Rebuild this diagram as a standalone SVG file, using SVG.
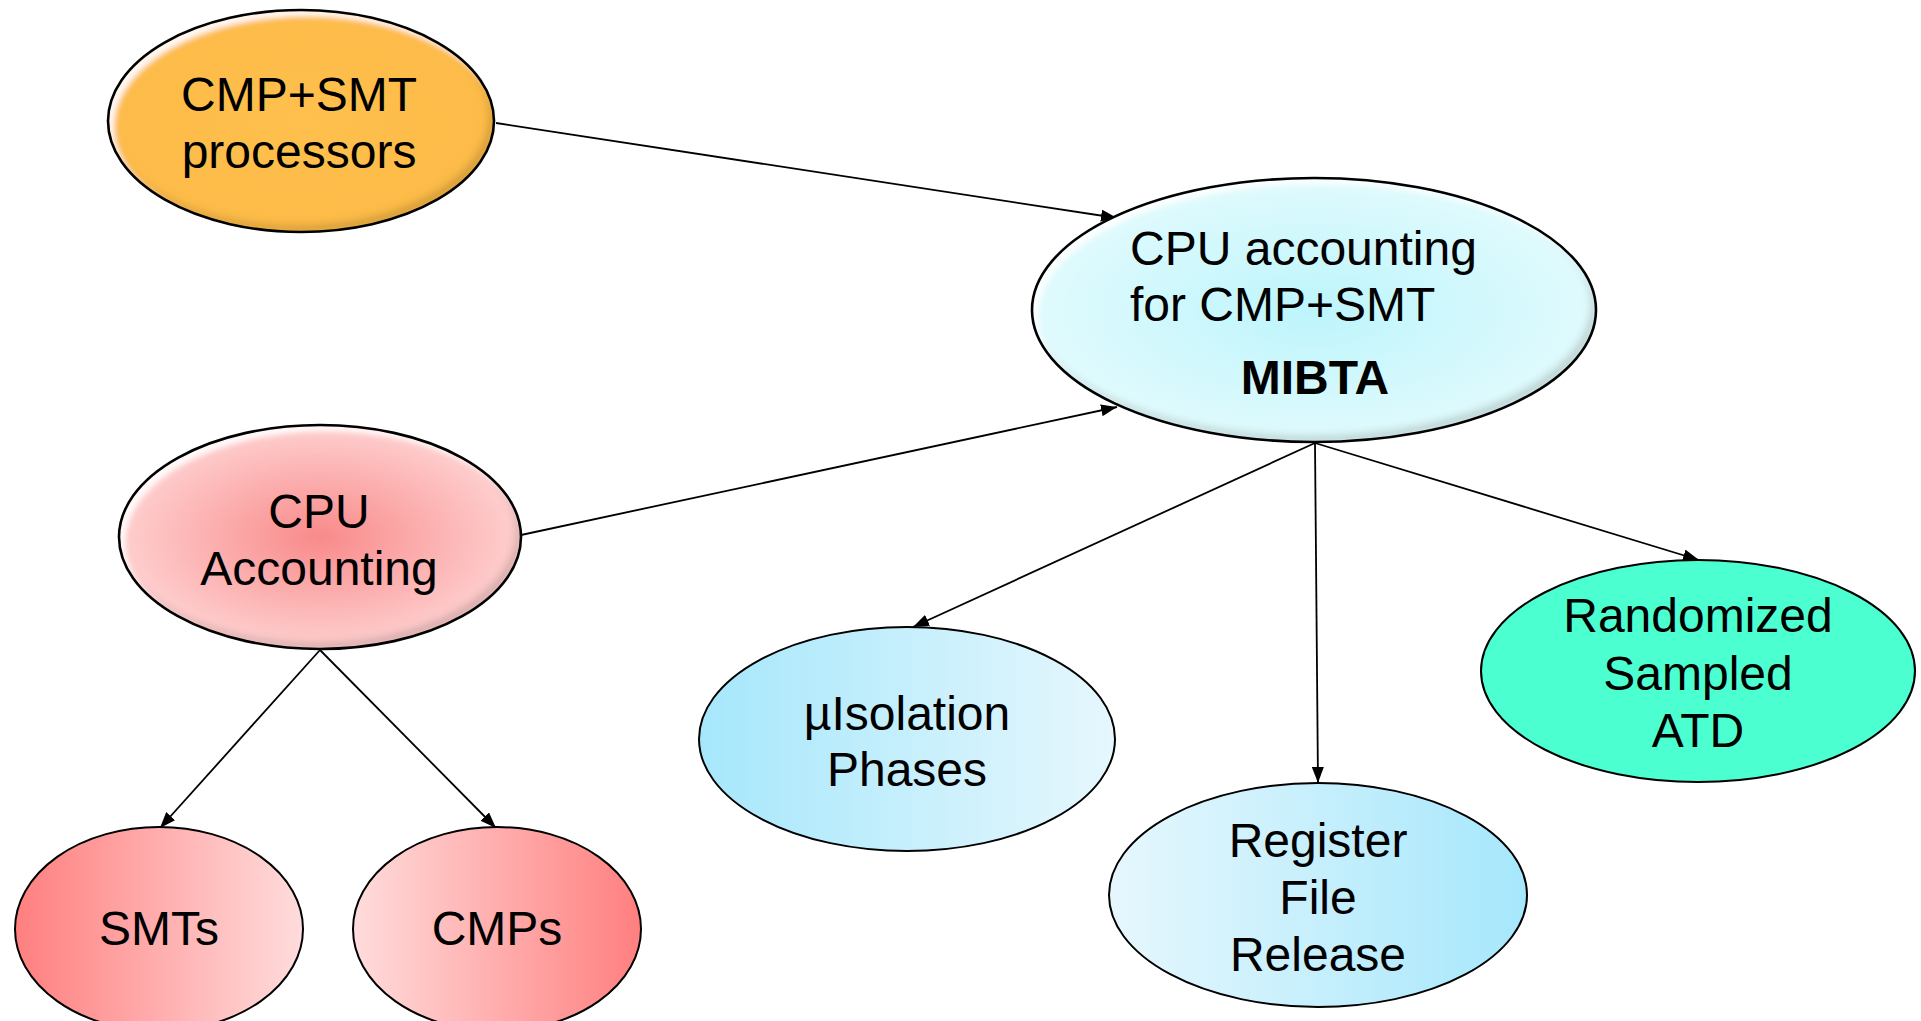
<svg xmlns="http://www.w3.org/2000/svg" width="1921" height="1021" viewBox="0 0 1921 1021">
  <defs>
    <style>
      .lbl { font-family: "Liberation Sans", Arial, sans-serif; font-size: 48px; fill: #000; text-anchor: middle; }
      .start { text-anchor: start; }
      .bold { font-weight: bold; }
      .node { stroke: #000; stroke-width: 2; }
      .rim { fill: none; stroke: #000; stroke-width: 2.6; }
      .edge { stroke: #000; stroke-width: 1.8; fill: none; marker-end: url(#arrow); }
    </style>
    <marker id="arrow" viewBox="0 0 16 12" refX="16" refY="6" markerWidth="16" markerHeight="12" markerUnits="userSpaceOnUse" orient="auto">
      <path d="M0,0 L16,6 L0,12 Z" fill="#000"/>
    </marker>
    <!-- inner bevel: light rim top-left, shaded rim bottom-right -->
    <filter id="bevel" x="-5%" y="-5%" width="110%" height="110%">
      <feOffset in="SourceAlpha" dx="6" dy="6" result="o1"/>
      <feGaussianBlur in="o1" stdDeviation="2.5" result="b1"/>
      <feComposite in="SourceAlpha" in2="b1" operator="out" result="hl"/>
      <feGaussianBlur in="hl" stdDeviation="1.8" result="hlb"/>
      <feFlood flood-color="#ffffff" flood-opacity="0.9"/>
      <feComposite in2="hlb" operator="in" result="hlc"/>
      <feOffset in="SourceAlpha" dx="-5" dy="-6" result="o2"/>
      <feGaussianBlur in="o2" stdDeviation="3" result="b2"/>
      <feComposite in="SourceAlpha" in2="b2" operator="out" result="sh"/>
      <feGaussianBlur in="sh" stdDeviation="2.5" result="shb"/>
      <feFlood flood-color="#3a2a10" flood-opacity="0.35"/>
      <feComposite in2="shb" operator="in" result="shc"/>
      <feMerge result="m"><feMergeNode in="SourceGraphic"/><feMergeNode in="shc"/><feMergeNode in="hlc"/></feMerge>
      <feComposite in="m" in2="SourceAlpha" operator="in"/>
    </filter>
    <radialGradient id="gOrange" cx="50%" cy="50%" r="50%">
      <stop offset="0" stop-color="#FFC04E"/>
      <stop offset="1" stop-color="#FDBB48"/>
    </radialGradient>
    <radialGradient id="gCyan" cx="50%" cy="50%" r="55%">
      <stop offset="0" stop-color="#BDF5FC"/>
      <stop offset="1" stop-color="#E4FBFD"/>
    </radialGradient>
    <radialGradient id="gPink" cx="50%" cy="50%" r="55%">
      <stop offset="0" stop-color="#F98A8A"/>
      <stop offset="1" stop-color="#FFD6D6"/>
    </radialGradient>
    <linearGradient id="gRedL" x1="0" y1="0" x2="1" y2="0">
      <stop offset="0" stop-color="#FF7F7F"/>
      <stop offset="1" stop-color="#FFDCDC"/>
    </linearGradient>
    <linearGradient id="gRedR" x1="0" y1="0" x2="1" y2="0">
      <stop offset="0" stop-color="#FFDCDC"/>
      <stop offset="1" stop-color="#FF7F7F"/>
    </linearGradient>
    <linearGradient id="gBlueL" x1="0" y1="0" x2="1" y2="0">
      <stop offset="0" stop-color="#A6E7FC"/>
      <stop offset="1" stop-color="#E6F7FD"/>
    </linearGradient>
    <linearGradient id="gBlueR" x1="0" y1="0" x2="1" y2="0">
      <stop offset="0" stop-color="#E6F7FD"/>
      <stop offset="1" stop-color="#A6E7FC"/>
    </linearGradient>
  </defs>

  <rect width="1921" height="1021" fill="#fff"/>

  <!-- connectors -->
  <g id="edges">
    <line class="edge" x1="496" y1="123" x2="1117" y2="218"/>
    <line class="edge" x1="521" y1="535" x2="1117" y2="407"/>
    <line class="edge" x1="320" y1="650" x2="160" y2="828"/>
    <line class="edge" x1="320" y1="650" x2="496" y2="828"/>
    <line class="edge" x1="1315" y1="443" x2="913" y2="627"/>
    <line class="edge" x1="1315" y1="443" x2="1318" y2="783"/>
    <line class="edge" x1="1315" y1="443" x2="1699" y2="560"/>
  </g>

  <g id="n-cmpsmt">
    <ellipse cx="301" cy="121" rx="193" ry="111" fill="url(#gOrange)" filter="url(#bevel)"/>
    <ellipse class="rim" cx="301" cy="121" rx="193" ry="111"/>
    <text class="lbl" x="299" y="111">CMP+SMT</text>
    <text class="lbl" x="299" y="168">processors</text>
  </g>

  <g id="n-mibta">
    <ellipse cx="1314" cy="310" rx="282" ry="132" fill="url(#gCyan)" filter="url(#bevel)"/>
    <ellipse class="rim" cx="1314" cy="310" rx="282" ry="132"/>
    <text class="lbl start" x="1130" y="265">CPU accounting</text>
    <text class="lbl start" x="1130" y="321">for CMP+SMT</text>
    <text class="lbl bold" x="1315" y="394">MIBTA</text>
  </g>

  <g id="n-cpuacct">
    <ellipse cx="320" cy="537" rx="201" ry="112" fill="url(#gPink)" filter="url(#bevel)"/>
    <ellipse class="rim" cx="320" cy="537" rx="201" ry="112"/>
    <text class="lbl" x="319" y="528">CPU</text>
    <text class="lbl" x="319" y="585">Accounting</text>
  </g>

  <g id="n-smts">
    <ellipse class="node" cx="159" cy="929" rx="144" ry="102" fill="url(#gRedL)"/>
    <text class="lbl" x="159" y="945">SMTs</text>
  </g>

  <g id="n-cmps">
    <ellipse class="node" cx="497" cy="929" rx="144" ry="102" fill="url(#gRedR)"/>
    <text class="lbl" x="497" y="945">CMPs</text>
  </g>

  <g id="n-isolation">
    <ellipse class="node" cx="907" cy="739" rx="208" ry="112" fill="url(#gBlueL)"/>
    <text class="lbl" x="907" y="730">µIsolation</text>
    <text class="lbl" x="907" y="786">Phases</text>
  </g>

  <g id="n-regfile">
    <ellipse class="node" cx="1318" cy="895" rx="209" ry="112" fill="url(#gBlueR)"/>
    <text class="lbl" x="1318" y="857">Register</text>
    <text class="lbl" x="1318" y="914">File</text>
    <text class="lbl" x="1318" y="971">Release</text>
  </g>

  <g id="n-atd">
    <ellipse class="node" cx="1698" cy="671" rx="217" ry="111" fill="#4CFFD0"/>
    <text class="lbl" x="1698" y="632">Randomized</text>
    <text class="lbl" x="1698" y="690">Sampled</text>
    <text class="lbl" x="1698" y="747">ATD</text>
  </g>
</svg>
